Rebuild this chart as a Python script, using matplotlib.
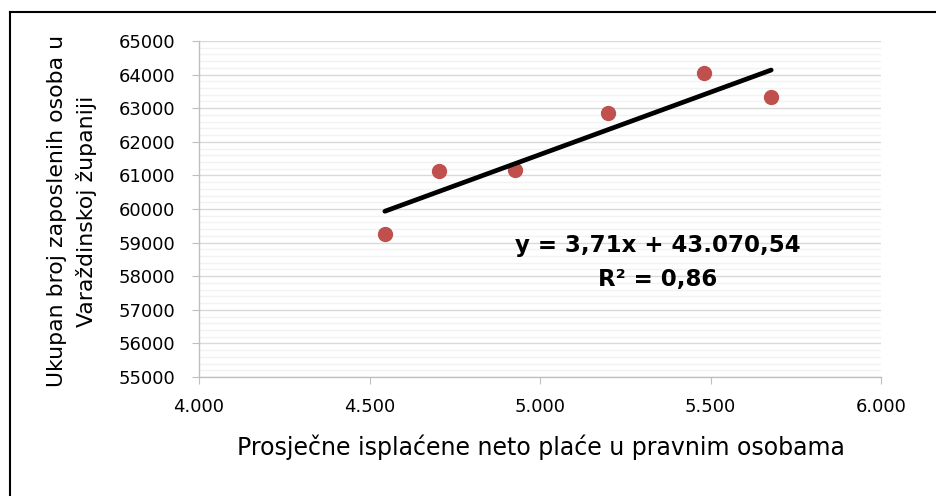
import numpy as np
import matplotlib.pyplot as plt
from matplotlib.ticker import MultipleLocator, FuncFormatter
from matplotlib.lines import Line2D

# Data
placa = [4545, 4705, 4928, 5198, 5481, 5678]          # average net wage
zaposleni = [59259, 61119, 61149, 62866, 64045, 63342]  # employed persons
slope = 3.71
intercept = 43070.54
r2 = 0.86

plt.rcParams['font.family'] = ['DejaVu Sans']

fig = plt.figure(figsize=(9.36, 4.96), dpi=100)
ax = fig.add_axes([199 / 936, 1 - 377 / 496, 682 / 936, 336 / 496])

x = np.array(placa)
y = np.array(zaposleni)

ax.plot(x, y, 'o', color='#c0504d', markersize=10, zorder=3)

xt = np.array([x.min(), x.max()])
ax.plot(xt, slope * xt + intercept, color='black', linewidth=3.4,
        solid_capstyle='round', zorder=4)

ax.set_xlim(4000, 6000)
ax.set_ylim(55000, 65000)
ax.xaxis.set_major_locator(MultipleLocator(500))
ax.yaxis.set_major_locator(MultipleLocator(1000))
ax.yaxis.set_minor_locator(MultipleLocator(200))
ax.xaxis.set_major_formatter(FuncFormatter(lambda v, p: f"{int(v):,}".replace(',', '.')))
ax.yaxis.set_major_formatter(FuncFormatter(lambda v, p: f"{int(v)}"))

ax.grid(axis='y', which='major', color='#d9d9d9', linewidth=1.0, zorder=0)
ax.grid(axis='y', which='minor', color='#f2f2f2', linewidth=1.0, zorder=0)
ax.set_axisbelow(True)

for s in ['top', 'right']:
    ax.spines[s].set_visible(False)
for s in ['left', 'bottom']:
    ax.spines[s].set_color('#bfbfbf')
    ax.spines[s].set_linewidth(1.0)

ax.tick_params(axis='both', which='major', direction='out', length=5,
               color='#bfbfbf', labelsize=13, labelcolor='black')
ax.tick_params(axis='y', which='minor', length=0)
ax.tick_params(axis='y', pad=12)
ax.tick_params(axis='x', pad=10)

ax.text(0.673, 0.341, f"y = 3,71x + 43.070,54\nR² = {r2:.2f}".replace('0.', '0,'),
        transform=ax.transAxes, ha='center', va='center', multialignment='center',
        fontsize=16.5, fontweight='bold', linespacing=1.6, zorder=5)

fig.text(541 / 936, 1 - 447 / 496, "Prosječne isplaćene neto plaće u pravnim osobama",
         ha='center', va='center', fontsize=17)
fig.text(72 / 936, 1 - 211 / 496, "Ukupan broj zaposlenih osoba u\nVaraždinskoj županiji",
         ha='center', va='center', rotation=90, fontsize=15.8, linespacing=1.55)

# chart frame (left, top, right edge)
fig.add_artist(Line2D([9.5 / 936, 9.5 / 936], [0, 1 - 12 / 496], color='black', linewidth=1.5))
fig.add_artist(Line2D([9.5 / 936, 1], [1 - 12 / 496, 1 - 12 / 496], color='black', linewidth=1.5))

fig.savefig('out.png', dpi=100)
